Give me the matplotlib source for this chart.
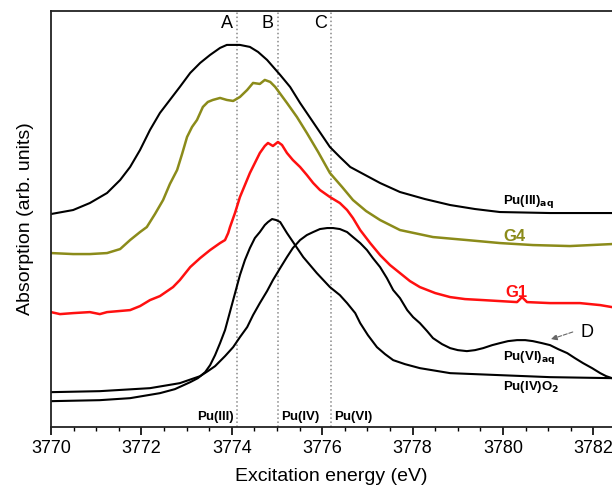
import matplotlib
matplotlib.use("Agg")
import matplotlib.pyplot as plt
from matplotlib.ticker import MultipleLocator

plt.rcParams['font.family'] = ['Liberation Sans', 'DejaVu Sans']

# Pu(III) aqueous reference
e_pu3 = [3770.00, 3770.49, 3770.86, 3771.24, 3771.53, 3771.75, 3771.97, 3772.19,
         3772.41, 3772.63, 3772.85, 3773.08, 3773.30, 3773.52, 3773.74, 3773.89,
         3774.03, 3774.18, 3774.40, 3774.58, 3774.78, 3775.07, 3775.29, 3775.51,
         3775.84, 3776.17, 3776.39, 3776.62, 3776.95, 3777.28, 3777.72, 3778.27,
         3778.83, 3779.38, 3779.93, 3781.04, 3782.41]
a_pu3 = [213, 217, 224, 234, 247, 260, 277, 297,
         314, 327, 340, 354, 364, 372, 379, 382,
         382, 382, 380, 375, 367, 352, 340, 324,
         302, 280, 270, 260, 252, 244, 235, 228,
         222, 218, 215, 214, 214]

# sample G4
e_g4 = [3770.00, 3770.49, 3770.86, 3771.24, 3771.53, 3771.75, 3771.97, 3772.12,
        3772.30, 3772.48, 3772.63, 3772.79, 3772.90, 3773.01, 3773.12, 3773.23,
        3773.36, 3773.47, 3773.58, 3773.74, 3773.89, 3774.03, 3774.18, 3774.34,
        3774.47, 3774.62, 3774.73, 3774.85, 3774.96, 3775.22, 3775.44, 3775.66,
        3775.91, 3776.17, 3776.44, 3776.68, 3776.97, 3777.28, 3777.72, 3778.45,
        3779.20, 3779.93, 3780.66, 3781.48, 3782.41]
a_g4 = [174, 173, 173, 174, 178, 187, 195, 200,
        213, 227, 243, 257, 273, 290, 300, 307,
        320, 325, 327, 329, 327, 326, 330, 337,
        344, 343, 347, 345, 340, 324, 310, 294,
        275, 254, 240, 227, 216, 207, 197, 190,
        187, 184, 182, 181, 183]

# sample G1
e_g1 = [3770.00, 3770.20, 3770.49, 3770.86, 3771.08, 3771.24, 3771.75, 3771.97,
        3772.19, 3772.41, 3772.70, 3772.85, 3773.08, 3773.30, 3773.52, 3773.74,
        3773.85, 3773.92, 3773.96, 3774.07, 3774.18, 3774.29, 3774.40, 3774.51,
        3774.62, 3774.73, 3774.80, 3774.91, 3775.02, 3775.11, 3775.22, 3775.35,
        3775.51, 3775.66, 3775.80, 3775.95, 3776.17, 3776.39, 3776.55, 3776.68,
        3776.84, 3777.06, 3777.28, 3777.50, 3777.72, 3777.94, 3778.16, 3778.50,
        3778.83, 3779.16, 3779.56, 3780.31, 3780.42, 3780.53, 3781.04, 3781.70,
        3782.15, 3782.41]
a_g1 = [115, 113, 114, 115, 113, 115, 117, 121,
        127, 131, 140, 147, 160, 169, 177, 184,
        187, 194, 200, 214, 230, 242, 254, 264,
        274, 281, 284, 281, 285, 282, 274, 267,
        260, 252, 244, 237, 230, 224, 217, 209,
        197, 184, 172, 162, 154, 146, 140, 134,
        130, 128, 127, 125, 130, 125, 124, 124,
        122, 120]

# Pu(IV)O2 reference
e_pu4 = [3770.00, 3771.08, 3771.75, 3772.41, 3772.74, 3773.08, 3773.25, 3773.41,
         3773.52, 3773.63, 3773.74, 3773.85, 3774.00, 3774.18, 3774.29, 3774.40,
         3774.51, 3774.62, 3774.73, 3774.80, 3774.89, 3774.98, 3775.07, 3775.22,
         3775.40, 3775.58, 3775.73, 3775.88, 3776.17, 3776.39, 3776.55, 3776.73,
         3776.84, 3777.01, 3777.21, 3777.39, 3777.57, 3777.83, 3778.16, 3778.83,
         3779.93, 3781.04, 3782.41]
a_pu4 = [26, 27, 29, 34, 38, 45, 49, 55,
         62, 72, 84, 97, 122, 152, 167, 179,
         189, 195, 202, 205, 208, 207, 205, 194,
         182, 170, 162, 154, 140, 132, 124, 114,
         104, 92, 80, 73, 67, 63, 59, 54,
         52, 50, 49]

# Pu(VI) aqueous reference
e_pu6 = [3770.00, 3771.08, 3772.19, 3772.85, 3773.30, 3773.47, 3773.63, 3773.74,
         3773.85, 3774.03, 3774.18, 3774.34, 3774.47, 3774.62, 3774.78, 3774.91,
         3775.07, 3775.22, 3775.35, 3775.51, 3775.66, 3775.80, 3775.95, 3776.11,
         3776.24, 3776.39, 3776.55, 3776.68, 3776.84, 3776.99, 3777.12, 3777.28,
         3777.43, 3777.57, 3777.72, 3777.88, 3778.01, 3778.16, 3778.32, 3778.45,
         3778.65, 3778.83, 3779.00, 3779.20, 3779.38, 3779.56, 3779.76, 3779.93,
         3780.11, 3780.31, 3780.49, 3780.66, 3780.86, 3781.04, 3781.22, 3781.42,
         3781.59, 3781.77, 3781.97, 3782.15, 3782.28, 3782.41]
a_pu6 = [35, 36, 39, 44, 51, 56, 61, 66,
         71, 80, 90, 100, 112, 124, 136, 147,
         159, 170, 179, 187, 192, 195, 198, 199,
         199, 198, 195, 190, 184, 177, 169, 160,
         149, 137, 129, 117, 110, 104, 96, 89,
         83, 79, 77, 76, 77, 79, 82, 84,
         86, 87, 87, 86, 84, 82, 78, 74,
         69, 64, 59, 54, 51, 49]

# edge positions A, B, C
edge_e = [3774.12, 3775.02, 3776.19]
edge_names = ['A', 'B', 'C']
edge_states = ['Pu(III)', 'Pu(IV)', 'Pu(VI)']

fig = plt.figure(figsize=(6.12, 4.95), dpi=100)
ax = fig.add_axes([0.0833, 0.137, 0.9167, 0.841])

lw = 1.5
ax.plot(e_pu3, a_pu3, color='black', lw=lw)
ax.plot(e_g4, a_g4, color='#8B8B1A', lw=lw + 0.3)
ax.plot(e_g1, a_g1, color='#FF1010', lw=lw + 0.3)
ax.plot(e_pu4, a_pu4, color='black', lw=lw)
ax.plot(e_pu6, a_pu6, color='black', lw=lw)

# dotted edge markers with letters and oxidation states
for x, name in zip(edge_e, edge_names):
    ax.axvline(x, color='#888888', ls=':', lw=1.1, zorder=0)
    ax.text(x - 0.22, 403, name, fontsize=13, ha='center', va='center')
ax.text(edge_e[0] - 0.08, 10, edge_states[0], fontsize=9.5, fontweight='bold', ha='right', va='center')
ax.text(edge_e[1] + 0.07, 10, edge_states[1], fontsize=9.5, fontweight='bold', ha='left', va='center')
ax.text(edge_e[2] + 0.07, 10, edge_states[2], fontsize=9.5, fontweight='bold', ha='left', va='center')

# curve labels
ax.text(3780.0, 226, r'Pu(III)$_{\mathbf{aq}}$', fontsize=9.5, fontweight='bold', ha='left', va='center')
ax.text(3780.0, 191, 'G4', fontsize=12, fontweight='bold', color='#8B8B1A', ha='left', va='center')
ax.text(3780.05, 135, 'G1', fontsize=12, fontweight='bold', color='#FF1010', ha='left', va='center')
ax.text(3780.0, 70, r'Pu(VI)$_{\mathbf{aq}}$', fontsize=9.5, fontweight='bold', ha='left', va='center')
ax.text(3780.0, 40, r'Pu(IV)O$_{\mathbf{2}}$', fontsize=9.5, fontweight='bold', ha='left', va='center')

ax.annotate('', xy=(3781.0, 87), xytext=(3781.6, 96),
            arrowprops=dict(arrowstyle='-|>', color='#666666', ls='--', lw=0.8,
                            mutation_scale=9))
ax.text(3781.85, 95, 'D', fontsize=13, ha='center', va='center')

ax.set_xlim(3770, 3782.41)
ax.set_ylim(0, 416)
ax.xaxis.set_major_locator(MultipleLocator(2))
ax.xaxis.set_minor_locator(MultipleLocator(0.5))
ax.tick_params(axis='x', which='major', direction='out', length=6, width=1.2, labelsize=13)
ax.tick_params(axis='x', which='minor', direction='out', length=3, width=1)
ax.set_yticks([])
ax.spines['right'].set_visible(False)
for side in ['left', 'top', 'bottom']:
    ax.spines[side].set_linewidth(1.3)
    ax.spines[side].set_color('#222222')

ax.set_xlabel('Excitation energy (eV)', fontsize=14, labelpad=8)
ax.set_ylabel('Absorption (arb. units)', fontsize=14, labelpad=12)

fig.savefig('out.png', dpi=100)
plt.close(fig)
